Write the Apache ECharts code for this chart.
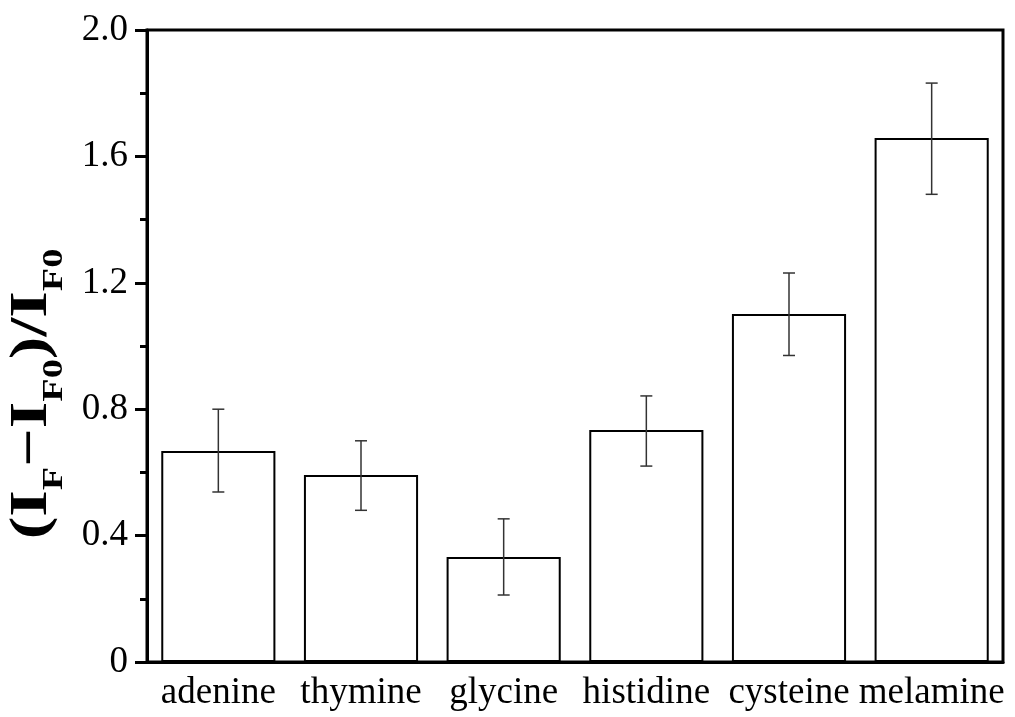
<!DOCTYPE html>
<html>
<head>
<meta charset="utf-8">
<script src="https://cdn.jsdelivr.net/npm/echarts@6/dist/echarts.min.js"></script>
<style>html,body{margin:0;padding:0;background:#fff;}#c{width:1015px;height:717px;}</style>
</head>
<body>
<div id="c"></div>
<script>
var categories = ['adenine', 'thymine', 'glycine', 'histidine', 'cysteine', 'melamine'];
var values = [0.668, 0.592, 0.332, 0.734, 1.101, 1.658];
var errLow = [0.538, 0.480, 0.212, 0.620, 0.970, 1.480];
var errHigh = [0.800, 0.700, 0.453, 0.842, 1.231, 1.832];
var yTicks = [0, 0.4, 0.8, 1.2, 1.6, 2.0];
var yTitle = '{b|(I}{s|F}{b|−I}{s|F0}{b|)/I}{s|F0}';

var chart = echarts.init(document.getElementById('c'));
var font = 'Liberation Serif';
var errData = categories.map(function (c, i) { return [i, errLow[i], errHigh[i]]; });

chart.setOption({
  animation: false,
  backgroundColor: '#fff',
  grid: { left: 147, right: 12, top: 30, bottom: 55, containLabel: false, outerBoundsMode: 'none',
          show: true, borderColor: '#000', borderWidth: 3, backgroundColor: 'transparent' },
  graphic: [{
    type: 'text', x: 32, y: 394, rotation: Math.PI / 2, scaleX: 1.28, scaleY: 1,
    style: {
      text: yTitle, align: 'center', verticalAlign: 'middle',
      rich: {
        b: { fontFamily: font, fontWeight: 'bold', fontSize: 53, fill: '#000', lineHeight: 74 },
        s: { fontFamily: font, fontWeight: 'bold', fontSize: 30, fill: '#000', verticalAlign: 'bottom', lineHeight: 30 }
      }
    }
  }],
  xAxis: [{
    type: 'category', data: categories, position: 'bottom',
    axisLine: { lineStyle: { color: '#000', width: 3 } },
    axisTick: { alignWithLabel: true, length: 12, lineStyle: { color: '#000', width: 3 } },
    axisLabel: { color: '#000', fontFamily: font, fontSize: 37, margin: 13, interval: 0 },
    splitLine: { show: false }
  }, {
    type: 'category', data: categories, position: 'bottom',
    axisLine: { show: false },
    axisTick: { alignWithLabel: false, length: 7, lineStyle: { color: '#000', width: 3 } },
    axisLabel: { show: false },
    splitLine: { show: false }
  }],
  yAxis: {
    type: 'value', min: 0, max: 2, interval: 0.4,
    axisLine: { show: true, lineStyle: { color: '#000', width: 3 } },
    axisTick: { show: true, length: 12, lineStyle: { color: '#000', width: 3 } },
    minorTick: { show: true, splitNumber: 2, length: 7, lineStyle: { color: '#000', width: 3 } },
    axisLabel: {
      color: '#000', fontFamily: font, fontSize: 37, margin: 19,
      formatter: function (v) {
        for (var i = 0; i < yTicks.length; i++) {
          if (Math.abs(v - yTicks[i]) < 1e-6) return v === 0 ? '0' : yTicks[i].toFixed(1);
        }
        return '';
      }
    },
    splitLine: { show: false }
  },
  series: [{
    type: 'bar', data: values, barWidth: '80%',
    itemStyle: { color: '#fff', borderColor: '#000', borderWidth: 2 },
    z: 2
  }, {
    type: 'custom', data: errData, z: 3,
    renderItem: function (params, api) {
      var x = api.value(0);
      var lo = api.coord([x, api.value(1)]);
      var hi = api.coord([x, api.value(2)]);
      var cap = 6;
      var st = { stroke: '#333', lineWidth: 1.5 };
      return {
        type: 'group', children: [
          { type: 'line', shape: { x1: lo[0], y1: lo[1], x2: hi[0], y2: hi[1] }, style: st },
          { type: 'line', shape: { x1: lo[0] - cap, y1: lo[1], x2: lo[0] + cap, y2: lo[1] }, style: st },
          { type: 'line', shape: { x1: hi[0] - cap, y1: hi[1], x2: hi[0] + cap, y2: hi[1] }, style: st }
        ]
      };
    }
  }]
});
</script>
</body>
</html>
